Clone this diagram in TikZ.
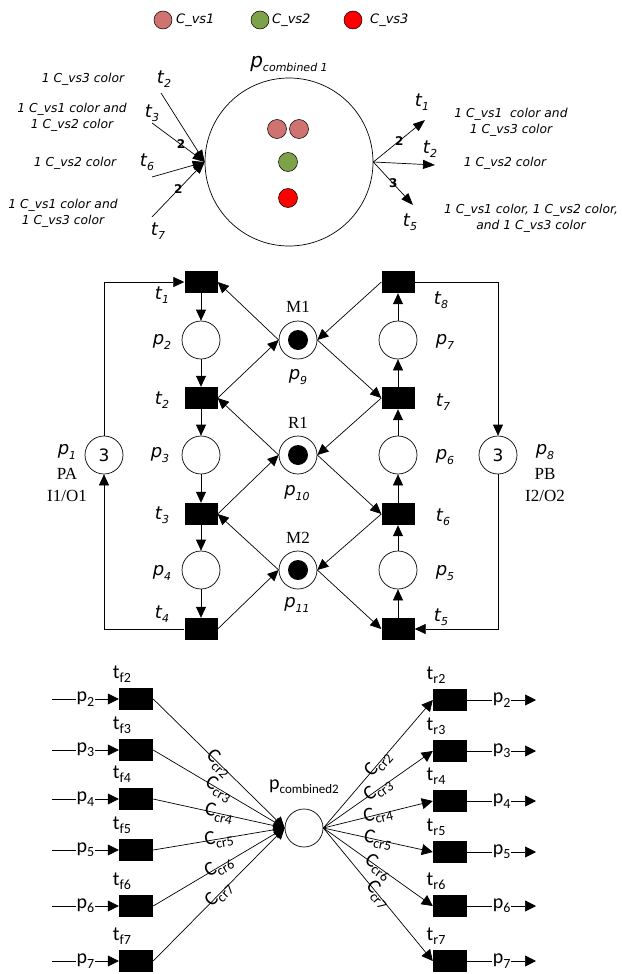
\documentclass[tikz,border=0pt]{standalone}
\usepackage{fontspec}
\usetikzlibrary{arrows.meta}
\setmainfont{Liberation Serif}
\newfontfamily\vsansfont{DejaVu Sans}
\newfontfamily\calfont{Carlito}
\definecolor{TokenRose}{HTML}{CF7370}
\definecolor{TokenGreen}{HTML}{7DA249}
\definecolor{TokenRed}{HTML}{FF0000}
\newcommand{\lowsub}[2][11]{\raisebox{-0.45ex}{\fontsize{#1}{#1}\selectfont#2}}
\newcommand{\notefont}{\vsansfont\itshape\fontsize{12.3}{16}\selectfont}
\newcommand{\tlabfont}{\vsansfont\itshape\fontsize{18}{20}\selectfont}
\newcommand{\serlabfont}{\rmfamily\fontsize{17}{19}\selectfont}
\newcommand{\callabfont}{\calfont\fontsize{20}{22}\selectfont}

\begin{document}
\begin{tikzpicture}[x=1pt, y=-1pt, every node/.style={inner sep=1pt},
  place/.style={circle, draw, line width=0.7pt, minimum size=38pt, inner sep=0pt, font=\vsansfont\fontsize{17}{19}\selectfont},
  trans/.style={rectangle, fill=black, minimum width=33pt, minimum height=22pt, inner sep=0pt},
  token/.style={circle, draw, line width=0.5pt, minimum size=19pt, inner sep=0pt},
  note/.style={font=\notefont, align=center},
  tlab/.style={font=\tlabfont, inner sep=0pt},
  wt/.style={font=\vsansfont\bfseries\fontsize{12}{13}\selectfont, inner sep=0.5pt},
  toparc/.style={line width=0.7pt, -{Triangle[length=12pt,width=9pt]}},
  flow/.style={line width=0.7pt, -{Triangle[length=11pt,width=10pt]}},
  barc/.style={line width=0.7pt, -{Triangle[length=11pt,width=11pt]}},
  cal/.style={font=\callabfont, inner sep=0pt}]
  \useasboundingbox (0,0) rectangle (621,974);

  \node[token, fill=TokenRose, minimum size=18pt] (key1) at (163,20) {};
  \node[anchor=west, font=\vsansfont\itshape\fontsize{13}{14}\selectfont] (key1txt) at (175,20) {C\_vs1};
  \node[token, fill=TokenGreen, minimum size=18pt] (key2) at (260,20) {};
  \node[anchor=west, font=\vsansfont\itshape\fontsize{13}{14}\selectfont] (key2txt) at (271,20) {C\_vs2};
  \node[token, fill=TokenRed, minimum size=18pt] (key3) at (353,20) {};
  \node[anchor=west, font=\vsansfont\itshape\fontsize{13}{14}\selectfont] (key3txt) at (369,20) {C\_vs3};

  \node[circle, draw, line width=0.7pt, minimum size=168pt, inner sep=0pt] (pc1) at (289,162) {};
  \node[font=\vsansfont\itshape\fontsize{20}{21}\selectfont] (pc1lab) at (289,64) {p\lowsub[11]{combined 1}};
  \node[token, fill=TokenRose] (tok1) at (277,129) {};
  \node[token, fill=TokenRose] (tok2) at (299,129) {};
  \node[token, fill=TokenGreen] (tok3) at (288,162) {};
  \node[token, fill=TokenRed] (tok4) at (288,198) {};

  \coordinate (src2) at (161,93);
  \coordinate (src3) at (152,123);
  \coordinate (src6) at (152,177);
  \coordinate (src7) at (152,217);
  \draw[toparc] (src2) -- (pc1.west);
  \draw[toparc] (src3) -- node[wt, pos=0.55] (w3) {2} (pc1.west);
  \draw[toparc] (src6) -- (pc1.west);
  \draw[toparc] (src7) -- node[wt, pos=0.5] (w7) {2} (pc1.west);
  \node[tlab] (ta2) at (164,79) {t\lowsub{2}};
  \node[tlab] (ta3) at (152,113) {t\lowsub{3}};
  \node[tlab] (ta6) at (147,162) {t\lowsub{6}};
  \node[tlab] (ta7) at (158,231) {t\lowsub{7}};
  \node[note] (na2) at (83,79) {1 C\_vs3 color};
  \node[note] (na3) at (72,117) {1 C\_vs1 color and\\1 C\_vs2 color};
  \node[note] (na6) at (75,163) {1 C\_vs2 color};
  \node[note] (na7) at (63,213) {1 C\_vs1 color and\\1 C\_vs3 color};

  \coordinate (dst1) at (425,120);
  \coordinate (dst2) at (435,165);
  \coordinate (dst5) at (413,205);
  \draw[toparc] (pc1.east) -- node[wt, pos=0.5] (w1) {2} (dst1);
  \draw[toparc] (pc1.east) -- (dst2);
  \draw[toparc] (pc1.east) -- node[wt, pos=0.5] (w5) {3} (dst5);
  \node[tlab] (tb1) at (422,102) {t\lowsub{1}};
  \node[tlab] (tb2) at (430,149) {t\lowsub{2}};
  \node[tlab] (tb5) at (410,222) {t\lowsub{5}};
  \node[note] (nb1) at (511,122) {1 C\_vs1\ \ color and\\1 C\_vs3 color};
  \node[note] (nb2) at (505,163) {1 C\_vs2 color};
  \node[note] (nb5) at (531,218) {1 C\_vs1 color, 1 C\_vs2 color,\\and 1 C\_vs3 color};

  \node[trans] (t1) at (201,282) {};
  \node[trans] (t2) at (201,398) {};
  \node[trans] (t3) at (201,514) {};
  \node[trans] (t4) at (201,629) {};
  \node[trans] (t8) at (398,282) {};
  \node[trans] (t7) at (398,398) {};
  \node[trans] (t6) at (398,514) {};
  \node[trans] (t5) at (398,629) {};
  \node[place] (p2) at (201,340) {};
  \node[place] (p3) at (201,455) {};
  \node[place] (p4) at (201,570) {};
  \node[place] (p9) at (298,340) {};
  \node[place] (p10) at (298,455) {};
  \node[place] (p11) at (298,570) {};
  \node[place] (p7) at (398,340) {};
  \node[place] (p6) at (398,455) {};
  \node[place] (p5) at (398,570) {};
  \node[place] (p1) at (104,455) {3};
  \node[place] (p8) at (498,455) {3};
  \foreach \p in {p9,p10,p11}
    \fill (\p) circle (10);

  \foreach \a/\b in {t1/p2,p2/t2,t2/p3,p3/t3,t3/p4,p4/t4,t5/p5,p5/t6,t6/p6,p6/t7,t7/p7,p7/t8}
    \draw[flow] (\a) -- (\b);
  \foreach \a/\b in {p9.west/t1.east,t2.east/p9.west,p10.west/t2.east,t3.east/p10.west,p11.west/t3.east,t4.east/p11.west,
                     t8.west/p9.east,p9.east/t7.west,t7.west/p10.east,p10.east/t6.west,t6.west/p11.east,p11.east/t5.west}
    \draw[flow] (\a) -- (\b);
  \draw[flow] (t4.west) -| (p1.south);
  \draw[flow] (p1.north) |- (t1.west);
  \draw[flow] (t8.east) -| (p8.north);
  \draw[flow] (p8.south) |- (t5.east);

  \node[tlab] (t1lab) at (162,295) {t\lowsub{1}};
  \node[tlab] (t2lab) at (162,400) {t\lowsub{2}};
  \node[tlab] (t3lab) at (162,515) {t\lowsub{3}};
  \node[tlab] (t4lab) at (162,614) {t\lowsub{4}};
  \node[tlab] (t8lab) at (441,300) {t\lowsub{8}};
  \node[tlab] (t7lab) at (443,402) {t\lowsub{7}};
  \node[tlab] (t6lab) at (443,517) {t\lowsub{6}};
  \node[tlab] (t5lab) at (441,617) {t\lowsub{5}};
  \node[tlab] (p2lab) at (162,342) {p\lowsub{2}};
  \node[tlab] (p3lab) at (160,455) {p\lowsub{3}};
  \node[tlab] (p4lab) at (162,573) {p\lowsub{4}};
  \node[tlab] (p7lab) at (445,342) {p\lowsub{7}};
  \node[tlab] (p6lab) at (445,457) {p\lowsub{6}};
  \node[tlab] (p5lab) at (445,573) {p\lowsub{5}};
  \node[tlab] (p9lab) at (298,377) {p\lowsub{9}};
  \node[tlab] (p10lab) at (297,493) {p\lowsub{10}};
  \node[tlab] (p11lab) at (297,605) {p\lowsub{11}};
  \node[font=\serlabfont] (m1lab) at (298,307) {M1};
  \node[font=\serlabfont] (r1lab) at (298,423) {R1};
  \node[font=\serlabfont] (m2lab) at (298,538) {M2};
  \node[tlab] (p1lab) at (67,452) {p\lowsub{1}};
  \node[font=\serlabfont] (p1name) at (67,474) {PA};
  \node[font=\serlabfont] (p1io) at (67,496) {I1/O1};
  \node[tlab] (p8lab) at (545,452) {p\lowsub{8}};
  \node[font=\serlabfont] (p8name) at (545,474) {PB};
  \node[font=\serlabfont] (p8io) at (545,496) {I2/O2};

  \node[circle, draw, line width=0.7pt, minimum size=38pt, inner sep=0pt] (pc2) at (304,828) {};
  \node[cal] (pc2lab) at (304,787) {p\lowsub[13]{combined2}};
  \foreach \k/\yl/\yr in {2/699/700,3/750/751,4/799/801,5/850/852,6/906/906,7/961/961} {
    \node[trans, minimum width=34pt] (tf\k) at (136,\yl) {};
    \node[trans, minimum width=34pt] (tr\k) at (450,\yr) {};
    \node[cal] (tf\k lab) at (122,\yl-25) {t\lowsub[14]{f\k}};
    \node[cal] (tr\k lab) at (436,\yr-25) {t\lowsub[14]{r\k}};
    \coordinate (fin\k) at (52,\yl);
    \coordinate (rout\k) at (536,\yr);
    \draw[barc] (fin\k) -- node[cal, fill=white, inner sep=0.5pt] (fp\k) {p\lowsub[14]{\k}} (tf\k.west);
    \draw[barc] (tr\k.east) -- node[cal, fill=white, inner sep=0.5pt] (rp\k) {p\lowsub[14]{\k}} (rout\k);
    \draw[barc] (tf\k.east) -- node[cal, sloped] (cf\k) {C\lowsub[14]{cr\k}} (pc2.west);
    \draw[barc] (pc2.east) -- node[cal, sloped] (cr\k) {C\lowsub[14]{cr\k}} (tr\k.west);
  }
\end{tikzpicture}
\end{document}
